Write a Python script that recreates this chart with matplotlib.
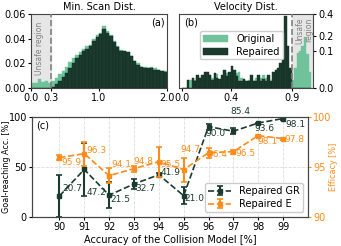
import numpy as np
import matplotlib
matplotlib.use("Agg")
import matplotlib.pyplot as plt
from matplotlib.transforms import blended_transform_factory

light = '#6fc29a'
dark = '#1c3b2f'
orange = '#ff8c1a'
spine = '#444444'

# (a) min scan distance histogram, bin width 0.05 from 0 to 2
a_width = 0.05
a_orig = [0.004, 0.0045, 0.007, 0.005, 0.006, 0.004, 0.006, 0.008, 0.011, 0.014,
          0.017, 0.021, 0.024, 0.027, 0.029, 0.032, 0.034, 0.035, 0.040, 0.043,
          0.045, 0.050, 0.046, 0.043, 0.038, 0.034, 0.031, 0.030, 0.029, 0.026,
          0.022, 0.020, 0.017, 0.017, 0.016, 0.017, 0.016, 0.015, 0.014, 0.014]
a_rep = [0, 0, 0, 0, 0, 0, 0.001, 0.003, 0.006, 0.009,
         0.012, 0.016, 0.020, 0.024, 0.027, 0.030, 0.032, 0.034, 0.038, 0.041,
         0.044, 0.048, 0.045, 0.042, 0.037, 0.033, 0.030, 0.030, 0.029, 0.026,
         0.022, 0.019, 0.017, 0.016, 0.016, 0.016, 0.015, 0.015, 0.014, 0.013]

# (b) velocity histogram, bin width 0.02 from 0 to 1.06
b_width = 0.02
b_orig = [0, 0, 0, 0.005, 0, 0.005, 0.008, 0.004, 0.008, 0.006,
          0.012, 0.012, 0.008, 0.006, 0.014, 0.005, 0.004, 0.008, 0.016, 0.012,
          0.010, 0.006, 0.016, 0.020, 0.008, 0.004, 0.004, 0.005, 0.004, 0.004,
          0.008, 0.004, 0.008, 0.012, 0.008, 0.006, 0.004, 0.006, 0.004, 0.006,
          0.004, 0.004, 0.002, 0.004, 0.006, 0.005, 0.03, 0.09, 0.10, 0.13,
          0.19, 0.085, 0.018]
b_rep = [0, 0, 0.005, 0, 0.008, 0.004, 0.012, 0.008, 0.012, 0.020,
         0.020, 0.012, 0.005, 0.016, 0.008, 0.006, 0.012, 0.024, 0.010, 0.020,
         0.035, 0.025, 0.010, 0.004, 0.004, 0.006, 0.004, 0.004, 0.012, 0.004,
         0.004, 0.012, 0.004, 0.006, 0.004, 0.012, 0.004, 0.020, 0.024, 0.030,
         0.045, 0.13, 0.38, 0.13, 0.03, 0, 0, 0, 0, 0,
         0, 0, 0]

# (c) accuracy sweep
acc = [90, 91, 92, 93, 94, 95, 96, 97, 98, 99]
gr = [20.7, 47.2, 21.5, 32.7, 41.9, 21.0, 90.0, 85.4, 93.6, 98.1]
gr_err = [20.7, 26, 13, 5, 2, 8.5, 3, 3, 0.5, 1]
eff = [95.9, 96.3, 94.1, 94.8, 95.5, 94.7, 96.4, 96.5, 98.1, 97.8]
eff_err = [0.22, 1.2, 0.75, 0.3, 1.5, 1.2, 0.5, 0.2, 0.1, 0.1]

# label offsets in pixels (dx, dy)
gr_off = [(3, 8), (2, -23), (1, -4), (1, -5), (2, 2), (1, -3), (-3, -7), (-3, 20), (-4, -5), (2, -6)]
eff_off = [(2, -5), (2, 3), (2, 11), (-1, 7), (2, -3), (-3, 20), (-1, -2), (2, -2), (-1, -6), (1, -1)]

plt.rcParams['font.size'] = 7
plt.rcParams['axes.edgecolor'] = spine

fig = plt.figure(figsize=(3.41, 2.46), dpi=100)
ax1 = fig.add_axes([0.091, 0.642, 0.399, 0.301])
ax2 = fig.add_axes([0.526, 0.642, 0.392, 0.301])
ax3 = fig.add_axes([0.094, 0.119, 0.809, 0.407])

# panel (a)
lefts = np.arange(len(a_orig)) * a_width
ax1.axvspan(0, 0.3, color='#e6e6e6', zorder=0)
ax1.bar(lefts, a_orig, width=a_width, align='edge', color=light, edgecolor=light, lw=0.3, zorder=2)
ax1.bar(lefts, a_rep, width=a_width, align='edge', color=dark, edgecolor='#0f2a20', lw=0.3, zorder=3)
ax1.axvline(0.3, color='gray', ls='--', lw=1.2, zorder=4)
ax1.set_xlim(0, 2.0)
ax1.set_ylim(0, 0.06)
ax1.set_xticks([0.0, 0.3, 1.0, 2.0])
ax1.set_yticks([0.0, 0.02, 0.04, 0.06])
ax1.set_title('Min. Scan Dist.', fontsize=7, pad=3)
ax1.text(0.93, 0.88, '(a)', transform=ax1.transAxes, ha='center', va='center')
ax1.text(0.13, 0.54, 'Unsafe region', transform=blended_transform_factory(ax1.transData, ax1.transAxes),
         rotation=90, ha='center', va='center', color='gray', fontsize=5.5)

# panel (b)
lefts = np.arange(len(b_orig)) * b_width
ax2.set_yscale('function', functions=(lambda v: np.sqrt(np.clip(v, 0, None)), np.square))
ax2.axvspan(0.9, 1.2, color='#e6e6e6', zorder=0)
ax2.bar(lefts, b_orig, width=b_width, align='edge', color=light, edgecolor=light, lw=0.3, zorder=2, label='Original')
ax2.bar(lefts, b_rep, width=b_width, align='edge', color=dark, edgecolor='#0f2a20', lw=0.3, zorder=3, label='Repaired')
ax2.axvline(0.9, color='gray', ls='--', lw=1.2, zorder=4)
ax2.set_xlim(-0.02, 1.075)
ax2.set_ylim(0, 0.4)
ax2.set_xticks([0.0, 0.4, 0.9])
ax2.set_yticks([0.0, 0.1, 0.2, 0.4])
ax2.yaxis.tick_right()
ax2.set_title('Velocity Dist.', fontsize=7, pad=3)
ax2.text(0.085, 0.88, '(b)', transform=ax2.transAxes, ha='center', va='center')
ax2.text(1.0, 0.78, 'Unsafe\nregion', transform=blended_transform_factory(ax2.transData, ax2.transAxes),
         rotation=90, ha='center', va='center', color='gray', fontsize=5.5, linespacing=1.0)
ax2.legend(loc='upper left', bbox_to_anchor=(0.12, 0.84), fontsize=7, handlelength=2.6,
           borderpad=0.3, labelspacing=0.3, framealpha=1)

# panel (c)
ax4 = ax3.twinx()
eff_left = [10 * (v - 90) for v in eff]
ax3.grid(True, ls='--', color='#dddddd', lw=0.6)
ax3.set_axisbelow(True)
l1 = ax3.errorbar(acc, gr, yerr=gr_err, color=dark, ls='--', lw=1.2, capsize=2.5, elinewidth=1.5,
                  capthick=1.2, marker='s', ms=2.5, label='Repaired GR', zorder=4)
l2 = ax4.errorbar(acc, eff, yerr=eff_err, color=orange, ls='--', lw=1.2, capsize=2.5, elinewidth=1.5,
                  capthick=1.2, marker='s', ms=2.5, label='Repaired E', zorder=3)
for x, v, (dx, dy) in zip(acc, gr, gr_off):
    ax3.annotate(f'{v:.1f}', (x, v), xytext=(dx, dy), textcoords='offset pixels',
                 ha='left', va='center', color=dark, fontsize=6.5, annotation_clip=False)
for x, v, (dx, dy) in zip(acc, eff_left, eff_off):
    ax3.annotate(f'{eff[acc.index(x)]:.1f}', (x, v), xytext=(dx, dy), textcoords='offset pixels',
                 ha='left', va='center', color=orange, fontsize=6.5, annotation_clip=False)
ax3.set_xlim(88.9, 100)
ax3.set_ylim(0, 100)
ax4.set_ylim(90, 100)
ax3.set_xticks(acc)
ax3.set_yticks([0, 50, 100])
ax4.set_yticks([90, 95, 100])
ax4.tick_params(axis='y', colors=orange)
ax4.spines['right'].set_color(spine)
ax3.set_xlabel('Accuracy of the Collision Model [%]', fontsize=7, labelpad=2)
ax3.set_ylabel('Goal-reaching Acc. [%]', fontsize=5.8)
ax4.set_ylabel('Efficacy [%]', fontsize=5.8, color=orange)
ax3.yaxis.set_label_coords(-0.078, 0.5)
ax4.yaxis.set_label_coords(1.078, 0.5)
ax3.text(0.04, 0.91, '(c)', transform=ax3.transAxes, ha='center', va='center')
ax4.legend([l1, l2], ['Repaired GR', 'Repaired E'], loc='lower right', fontsize=7,
           handlelength=2.4, borderpad=0.3, labelspacing=0.3, framealpha=1)

for ax in (ax1, ax2, ax3, ax4):
    ax.tick_params(labelsize=7, length=2.5, pad=1.2)

fig.savefig('out.png', dpi=100)
